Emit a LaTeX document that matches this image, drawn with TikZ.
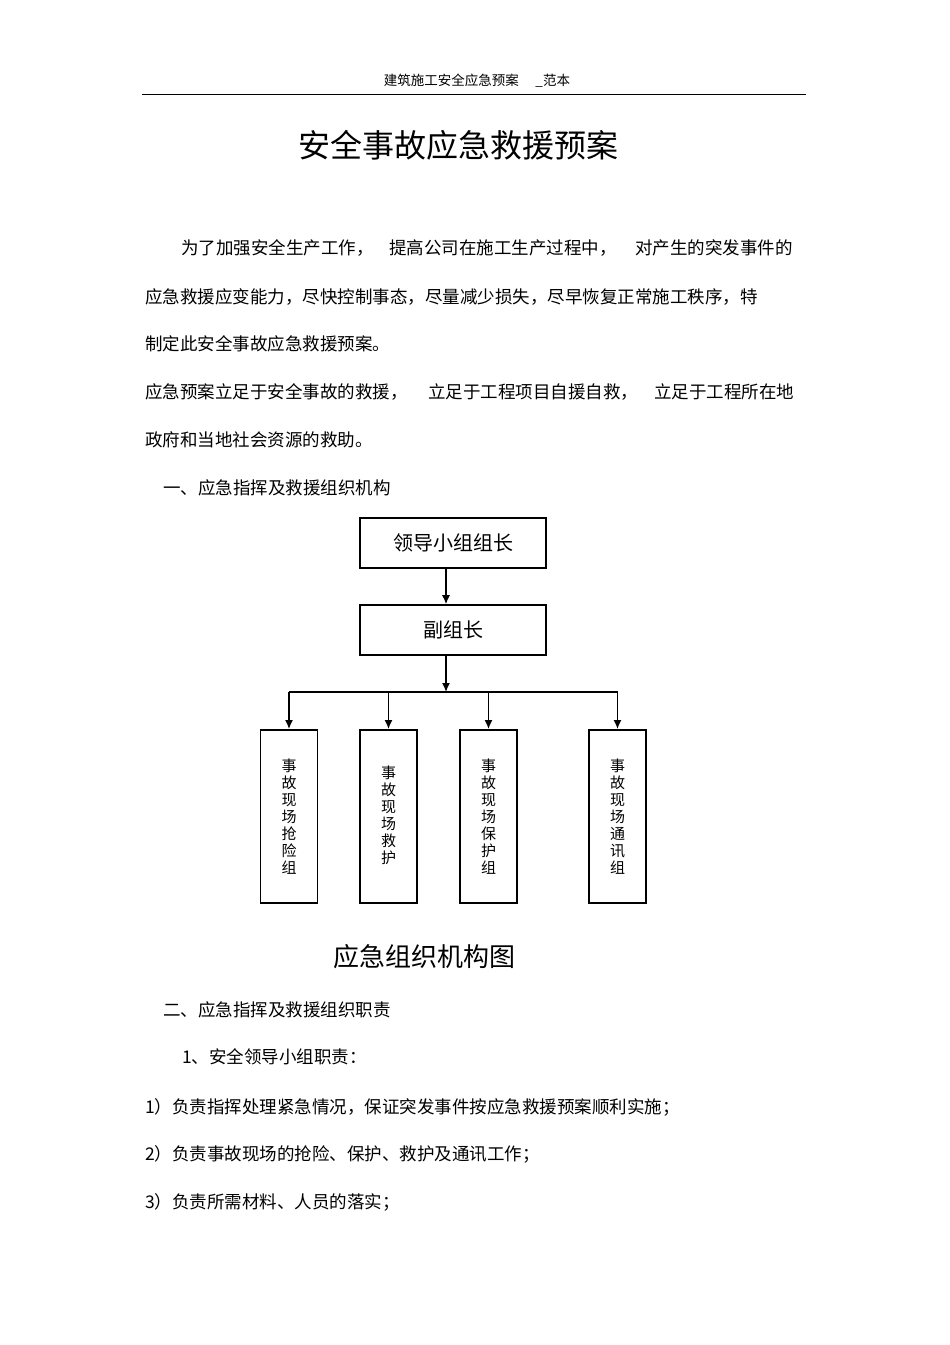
\documentclass[tikz,border=0pt]{standalone}
\usepackage{fontspec}
\setmainfont{Noto Sans CJK SC}
\usetikzlibrary{arrows.meta}
\begin{document}
\begin{tikzpicture}[x=1pt,y=-1pt,
  t/.style={anchor=west,inner sep=0pt,font=\fontsize{17.5}{17.5}\selectfont},
  box/.style={draw,line width=1.6pt,minimum width=186pt,minimum height=50pt,font=\fontsize{20}{20}\selectfont},
  vbox/.style={draw,line width=1.6pt,minimum width=57pt,minimum height=173pt,anchor=north,font=\fontsize{15}{17}\selectfont,align=center},
  arr/.style={-{Latex[length=9pt,width=8pt]},line width=1.4pt}]
\useasboundingbox (0,0) rectangle (950,1345);
\node[inner sep=0pt,font=\fontsize{13.5}{13.5}\selectfont] (hdr) at (477,81) {建筑施工安全应急预案\quad\ \_范本};
\draw (142,94) -- (806,94);
\node[inner sep=0pt,font=\fontsize{32}{32}\selectfont] (title) at (458,145) {安全事故应急救援预案};
\node[t] (p1a) at (181,248) {为了加强安全生产工作，};
\node[t] (p1b) at (389,248) {提高公司在施工生产过程中，};
\node[t] (p1c) at (635,248) {对产生的突发事件的};
\node[t] (p2) at (145,297) {应急救援应变能力，尽快控制事态，尽量减少损失，尽早恢复正常施工秩序，特};
\node[t] (p3) at (145,344) {制定此安全事故应急救援预案。};
\node[t] (p4a) at (145,392) {应急预案立足于安全事故的救援，};
\node[t] (p4b) at (428,392) {立足于工程项目自援自救，};
\node[t] (p4c) at (654,392) {立足于工程所在地};
\node[t] (p5) at (145,440) {政府和当地社会资源的救助。};
\node[t] (s1) at (163,488) {一、应急指挥及救援组织机构};
\node[box] (lead) at (453,543) {领导小组组长};
\node[box] (vice) at (453,630) {副组长};
\coordinate (bus) at (446,692);
\node[vbox] (g1) at (289,729) {事\\故\\现\\场\\抢\\险\\组};
\node[vbox] (g2) at (388.5,729) {\\[-6pt]事\\故\\现\\场\\救\\护};
\node[vbox] (g3) at (488.5,729) {事\\故\\现\\场\\保\\护\\组};
\node[vbox] (g4) at (617.5,729) {事\\故\\现\\场\\通\\讯\\组};
\draw[arr] (lead.south -| bus) -- (vice.north -| bus);
\draw[arr] (vice.south -| bus) -- (bus);
\draw[line width=1.4pt] (g1.north |- bus) -- (g4.north |- bus);
\foreach \g in {g1,g2,g3,g4} \draw[arr] (\g.north |- bus) -- (\g.north);
\node[inner sep=0pt,font=\fontsize{26}{26}\selectfont] (cap) at (424,957) {应急组织机构图};
\node[t] (s2) at (163,1010) {二、应急指挥及救援组织职责};
\node[t] (s3) at (182,1057) {1、安全领导小组职责：};
\node[t] (r1) at (145,1107) {1）负责指挥处理紧急情况，保证突发事件按应急救援预案顺利实施；};
\node[t] (r2) at (145,1154) {2）负责事故现场的抢险、保护、救护及通讯工作；};
\node[t] (r3) at (145,1202) {3）负责所需材料、人员的落实；};
\end{tikzpicture}
\end{document}
